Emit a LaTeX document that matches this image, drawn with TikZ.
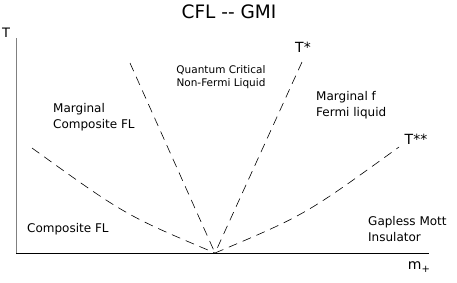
\documentclass[tikz,border=0pt]{standalone}
\usepackage{fontspec}
\setmainfont{DejaVu Sans}

\tikzset{
    phase/.style={font=\fontsize{12}{15.5}\selectfont, align=left, inner sep=0pt},
    boundary/.style={line width=0.6pt, dash pattern=on 9pt off 6pt},
}

\begin{document}
\begin{tikzpicture}[x=1pt, y=-1pt]
    \useasboundingbox (0,0) rectangle (457,282);

    % Axes
    \coordinate (origin) at (16,253);
    \coordinate (ytop) at (16,38);
    \coordinate (xend) at (429,253);
    \draw[color=gray, line width=1pt] (origin) -- (ytop);
    \draw[line width=0.8pt] (origin) -- (xend);
    \node[font=\fontsize{13}{13}\selectfont, inner sep=0pt] (Tlabel) at (6,33) {T};
    \node[font=\fontsize{14}{14}\selectfont, inner sep=0pt] (mlabel) at (419,267) {m\raisebox{-0.4ex}{\fontsize{10}{10}\selectfont +}};
    \node[font=\fontsize{18.5}{18.5}\selectfont, inner sep=0pt] (title) at (229,12) {CFL -{}- GMI};

    % Crossover lines
    \coordinate (qcp) at (215,253);
    \coordinate (leftend) at (32,148);
    \coordinate (midleft) at (130,63);
    \coordinate (midright) at (302,62);
    \coordinate (rightend) at (399,147);
    \draw[boundary] (leftend) .. controls (125,215) .. (qcp);
    \draw[boundary] (midleft) -- (qcp);
    \draw[boundary] (midright) -- (qcp);
    \draw[boundary] (qcp) .. controls (305,215) .. (rightend);
    \node[font=\fontsize{14}{14}\selectfont, inner sep=0pt] (tstar) at (303,47) {T*};
    \node[font=\fontsize{14}{14}\selectfont, inner sep=0pt] (tstarstar) at (416,139) {T**};

    % Phases
    \node[phase, font=\fontsize{10.5}{13}\selectfont, align=center] (qcnfl) at (221,77) {Quantum Critical\\Non-Fermi Liquid};
    \node[phase, anchor=west] (mcfl) at (53,117) {Marginal\\Composite FL};
    \node[phase, anchor=west] (mffl) at (316,105) {Marginal f\\Fermi liquid};
    \node[phase, anchor=west] (cfl) at (27,229) {Composite FL};
    \node[phase, anchor=west] (gmi) at (368,229) {Gapless Mott\\Insulator};
\end{tikzpicture}
\end{document}
